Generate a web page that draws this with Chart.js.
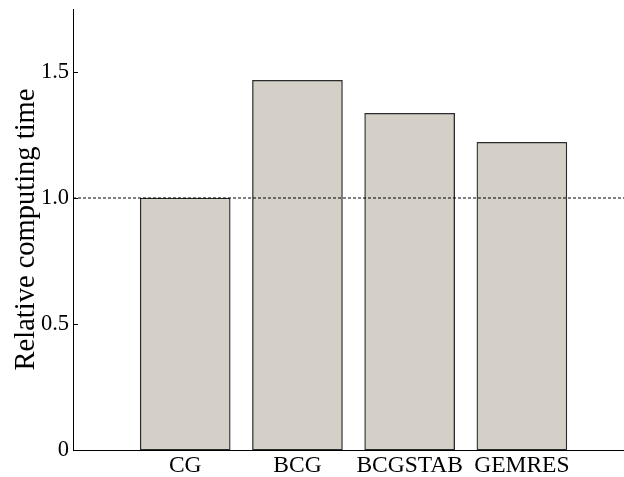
<!DOCTYPE html>
<html>
<head>
<meta charset="utf-8">
<script src="https://cdn.jsdelivr.net/npm/chart.js@4/dist/chart.umd.min.js"></script>
<style>
  html, body { margin: 0; padding: 0; background: #ffffff; }
  #wrap { width: 624px; height: 477px; }
</style>
</head>
<body>
<div id="wrap"><canvas id="c" width="624" height="477"></canvas></div>
<script>
// Solver names and their computing time relative to CG
const categories = ['CG', 'BCG', 'BCGSTAB', 'GEMRES'];
const relativeTime = [1.0, 1.467, 1.336, 1.221];
const yTicks = [0, 0.5, 1.0, 1.5];
const yTickLabels = ['0', '0.5', '1.0', '1.5'];
const baselineLevel = 1.0;

const FONT = '"Liberation Serif", "Times New Roman", serif';

// bars sit at x = 1..n on a linear axis that runs off the right edge
const xMax = 4.91;
const barPoints = categories.map((c, i) => ({ x: i + 1, y: relativeTime[i] }));

// short tick marks pointing into the plot on the y axis
const inwardTicks = {
  id: 'inwardTicks',
  afterDraw(chart) {
    const ctx = chart.ctx;
    const y = chart.scales.y;
    const left = chart.chartArea.left;
    ctx.save();
    ctx.strokeStyle = '#000';
    ctx.lineWidth = 1;
    yTicks.forEach(v => {
      const py = Math.round(y.getPixelForValue(v)) + 0.5;
      ctx.beginPath();
      ctx.moveTo(left, py);
      ctx.lineTo(left + 5, py);
      ctx.stroke();
    });
    ctx.restore();
  }
};

new Chart(document.getElementById('c'), {
  data: {
    datasets: [
      {
        type: 'line',
        data: [{ x: 0, y: baselineLevel }, { x: xMax, y: baselineLevel }],
        borderColor: '#000',
        borderWidth: 1,
        borderDash: [3, 2],
        pointRadius: 0,
        fill: false,
        order: 0
      },
      {
        type: 'bar',
        data: barPoints,
        backgroundColor: '#d4d0c8',
        borderColor: '#2b2b2b',
        borderWidth: 1.3,
        borderSkipped: false,
        barThickness: 90,
        order: 1
      }
    ]
  },
  options: {
    responsive: false,
    animation: false,
    layout: { padding: { top: 9, left: 0, right: 0, bottom: 0 } },
    plugins: {
      legend: { display: false },
      tooltip: { enabled: false }
    },
    scales: {
      x: {
        type: 'linear',
        min: 0,
        max: xMax,
        offset: false,
        grid: { display: false, drawTicks: false },
        border: { display: true, color: '#000', width: 1 },
        afterBuildTicks(scale) {
          scale.ticks = categories.map((c, i) => ({ value: i + 1 }));
        },
        afterFit(scale) {
          scale.height = 27;
          scale.paddingLeft = 0;
          scale.paddingRight = 0;
        },
        ticks: {
          autoSkip: false,
          maxRotation: 0,
          padding: 2,
          color: '#000',
          font: { family: FONT, size: 23.5 },
          callback: (v) => categories[v - 1] ?? ''
        }
      },
      y: {
        type: 'linear',
        min: 0,
        max: 1.75,
        grid: { display: false, drawTicks: false },
        border: { display: true, color: '#000', width: 1 },
        afterBuildTicks(scale) {
          scale.ticks = yTicks.map(v => ({ value: v }));
        },
        afterFit(scale) {
          scale.width = 73;
          scale.paddingTop = 0;
          scale.paddingBottom = 0;
        },
        ticks: {
          padding: 4,
          color: '#000',
          font: { family: FONT, size: 22.5 },
          callback: (v) => {
            const i = yTicks.indexOf(v);
            return i >= 0 ? yTickLabels[i] : '';
          }
        },
        title: {
          display: true,
          text: 'Relative computing time',
          color: '#000',
          font: { family: FONT, size: 28.5 },
          padding: { top: 9, bottom: 0 }
        }
      }
    }
  },
  plugins: [inwardTicks]
});
</script>
</body>
</html>
